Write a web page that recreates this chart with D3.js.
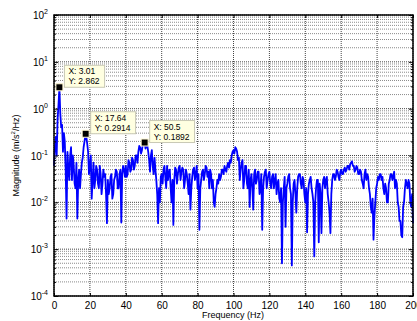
<!DOCTYPE html>
<html>
<head>
<meta charset="utf-8">
<script src="https://cdn.jsdelivr.net/npm/d3@7"></script>
<style>
  body { margin: 0; background: #fff; }
  svg { font-family: "Liberation Sans", Arial, sans-serif; }
</style>
</head>
<body>
<svg width="417" height="321"></svg>
<script>
// spectrum samples (about every 0.5 Hz)
var freqHz = [
  0, 0.5, 1, 1.5, 2, 2.5, 3.01, 3.5, 4, 4.5, 5, 5.5, 6, 6.5, 7, 7.5, 8, 8.5, 9, 9.5,
  10, 10.5, 11, 11.5, 12, 12.5, 13, 13.5, 14, 14.5, 15, 15.5, 16, 16.5, 17, 17.64, 18, 18.5, 19, 19.5,
  20, 20.5, 21, 21.5, 22, 22.5, 23, 23.5, 24, 24.5, 25, 25.5, 26, 26.5, 27, 27.5, 28, 28.5, 29, 29.5,
  30, 30.5, 31, 31.5, 32, 32.5, 33, 33.5, 34, 34.5, 35, 35.5, 36, 36.5, 37, 37.5, 38, 38.5, 39, 39.5,
  40, 40.5, 41, 41.5, 42, 42.5, 43, 43.5, 44, 44.5, 45, 45.5, 46, 46.5, 47, 47.5, 48, 48.5, 49, 49.5,
  50, 50.5, 51, 51.5, 52, 52.5, 53, 53.5, 54, 54.5, 55, 55.5, 56, 56.5, 57, 57.5, 58, 58.5, 59, 59.5,
  60, 60.5, 61, 61.5, 62, 62.5, 63, 63.5, 64, 64.5, 65, 65.5, 66, 66.5, 67, 67.5, 68, 68.5, 69, 69.5,
  70, 70.5, 71, 71.5, 72, 72.5, 73, 73.5, 74, 74.5, 75, 75.5, 76, 76.5, 77, 77.5, 78, 78.5, 79, 79.5,
  80, 80.5, 81, 81.5, 82, 82.5, 83, 83.5, 84, 84.5, 85, 85.5, 86, 86.5, 87, 87.5, 88, 88.5, 89, 89.5,
  90, 90.5, 91, 91.5, 92, 92.5, 93, 93.5, 94, 94.5, 95, 95.5, 96, 96.5, 97, 97.5, 98, 98.5, 99, 99.5,
  100, 100.5, 101, 101.5, 102, 102.5, 103, 103.5, 104, 104.5, 105, 105.5, 106, 106.5, 107, 107.5, 108, 108.5, 109, 109.5,
  110, 110.5, 111, 111.5, 112, 112.5, 113, 113.5, 114, 114.5, 115, 115.5, 116, 116.5, 117, 117.5, 118, 118.5, 119, 119.5,
  120, 120.5, 121, 121.5, 122, 122.5, 123, 123.5, 124, 124.5, 125, 125.5, 126, 126.5, 127, 127.5, 128, 128.5, 129, 129.5,
  130, 130.5, 131, 131.5, 132, 132.5, 133, 133.5, 134, 134.5, 135, 135.5, 136, 136.5, 137, 137.5, 138, 138.5, 139, 139.5,
  140, 140.5, 141, 141.5, 142, 142.5, 143, 143.5, 144, 144.5, 145, 145.5, 146, 146.5, 147, 147.5, 148, 148.5, 149, 149.5,
  150, 150.5, 151, 151.5, 152, 152.5, 153, 153.5, 154, 154.5, 155, 155.5, 156, 156.5, 157, 157.5, 158, 158.5, 159, 159.5,
  160, 160.5, 161, 161.5, 162, 162.5, 163, 163.5, 164, 164.5, 165, 165.5, 166, 166.5, 167, 167.5, 168, 168.5, 169, 169.5,
  170, 170.5, 171, 171.5, 172, 172.5, 173, 173.5, 174, 174.5, 175, 175.5, 176, 176.5, 177, 177.5, 178, 178.5, 179, 179.5,
  180, 180.5, 181, 181.5, 182, 182.5, 183, 183.5, 184, 184.5, 185, 185.5, 186, 186.5, 187, 187.5, 188, 188.5, 189, 189.5,
  190, 190.5, 191, 191.5, 192, 192.5, 193, 193.5, 194, 194.5, 195, 195.5, 196, 196.5, 197, 197.5, 198, 198.5, 199, 199.5, 200];

var magnitude = [
  0.06, 0.15, 0.25, 0.1, 0.6, 1.2, 2.862, 0.8, 0.4, 0.45, 0.12, 0.3, 0.2, 0.05, 0.0045, 0.12, 0.05, 0.03, 0.1, 0.15,
  0.03, 0.1, 0.06, 0.025, 0.02, 0.07, 0.0045, 0.03, 0.05, 0.02, 0.04, 0.07, 0.09, 0.15, 0.2, 0.2914, 0.25, 0.18, 0.12, 0.04,
  0.06, 0.1, 0.012, 0.03, 0.07, 0.02, 0.03, 0.06, 0.05, 0.025, 0.02, 0.06, 0.04, 0.015, 0.025, 0.05, 0.035, 0.04, 0.015, 0.0036,
  0.03, 0.015, 0.02, 0.035, 0.04, 0.012, 0.015, 0.03, 0.035, 0.05, 0.045, 0.02, 0.02, 0.04, 0.05, 0.0037, 0.04, 0.06, 0.05, 0.035,
  0.06, 0.035, 0.04, 0.08, 0.07, 0.045, 0.05, 0.09, 0.08, 0.05, 0.06, 0.1, 0.1, 0.07, 0.12, 0.16, 0.15, 0.11, 0.13, 0.18,
  0.17, 0.1892, 0.14, 0.17, 0.16, 0.12, 0.08, 0.045, 0.1, 0.13, 0.06, 0.04, 0.09, 0.05, 0.03, 0.015, 0.0036, 0.02, 0.01, 0.035,
  0.04, 0.025, 0.05, 0.06, 0.035, 0.02, 0.06, 0.03, 0.045, 0.05, 0.02, 0.01, 0.03, 0.0033, 0.03, 0.055, 0.05, 0.025, 0.04, 0.055,
  0.06, 0.03, 0.045, 0.055, 0.05, 0.02, 0.03, 0.05, 0.04, 0.025, 0.015, 0.04, 0.007, 0.02, 0.035, 0.05, 0.055, 0.03, 0.04, 0.06,
  0.02, 0.04, 0.0026, 0.02, 0.03, 0.045, 0.05, 0.03, 0.04, 0.06, 0.055, 0.035, 0.045, 0.02, 0.05, 0.04, 0.02, 0.03, 0.01, 0.008,
  0.015, 0.02, 0.03, 0.025, 0.04, 0.03, 0.035, 0.05, 0.05, 0.04, 0.06, 0.05, 0.045, 0.06, 0.07, 0.055, 0.08, 0.07, 0.1, 0.12,
  0.13, 0.11, 0.15, 0.14, 0.12, 0.08, 0.09, 0.03, 0.05, 0.07, 0.08, 0.02, 0.03, 0.06, 0.06, 0.025, 0.02, 0.05, 0.008, 0.03,
  0.04, 0.02, 0.007, 0.04, 0.05, 0.025, 0.03, 0.045, 0.045, 0.015, 0.02, 0.04, 0.0026, 0.02, 0.035, 0.045, 0.05, 0.02, 0.03, 0.04,
  0.045, 0.025, 0.02, 0.035, 0.04, 0.02, 0.03, 0.04, 0.015, 0.025, 0.03, 0.012, 0.01, 0.02, 0.0005, 0.01, 0.02, 0.035, 0.003, 0.02,
  0.025, 0.035, 0.04, 0.02, 0.015, 0.00045, 0.01, 0.025, 0.03, 0.015, 0.006, 0.02, 0.035, 0.04, 0.04, 0.025, 0.02, 0.035, 0.03, 0.015,
  0.01, 0.02, 0.0023, 0.015, 0.025, 0.03, 0.035, 0.02, 0.015, 0.01, 0.0007, 0.01, 0.02, 0.03, 0.03, 0.0014, 0.025, 0.015, 0.0022, 0.02,
  0.03, 0.035, 0.02, 0.03, 0.035, 0.015, 0.01, 0.006, 0.0022, 0.015, 0.03, 0.04, 0.04, 0.03, 0.035, 0.05, 0.045, 0.035, 0.03, 0.045,
  0.05, 0.04, 0.04, 0.05, 0.055, 0.045, 0.05, 0.06, 0.06, 0.05, 0.065, 0.07, 0.075, 0.06, 0.06, 0.045, 0.05, 0.06, 0.055, 0.04,
  0.04, 0.05, 0.045, 0.03, 0.025, 0.02, 0.04, 0.05, 0.03, 0.04, 0.035, 0.02, 0.015, 0.008, 0.006, 0.012, 0.0016, 0.005, 0.01, 0.02,
  0.025, 0.035, 0.03, 0.04, 0.04, 0.03, 0.035, 0.02, 0.015, 0.025, 0.02, 0.01, 0.01, 0.025, 0.03, 0.04, 0.04, 0.03, 0.035, 0.045,
  0.02, 0.03, 0.025, 0.01, 0.008, 0.004, 0.004, 0.002, 0.0018, 0.008, 0.01, 0.02, 0.03, 0.025, 0.02, 0.03, 0.025, 0.01, 0.008, 0.015, 0.0036];

// data tips
var tipX = [3.01, 17.64, 50.5];
var tipY = [2.862, 0.2914, 0.1892];

var xTicks = [0, 20, 40, 60, 80, 100, 120, 140, 160, 180, 200];
var yExponents = [-4, -3, -2, -1, 0, 1, 2];

var svg = d3.select("svg");
var plotLeft = 54, plotRight = 413, plotTop = 15, plotBottom = 296;

var x = d3.scaleLinear().domain([0, 200]).range([plotLeft, plotRight]);
var y = d3.scaleLog().domain([1e-4, 1e2]).range([plotBottom, plotTop]);

// minor decade values
var minor = [];
yExponents.slice(0, -1).forEach(function (e) {
  for (var k = 2; k <= 9; k++) minor.push(k * Math.pow(10, e));
});

var grid = svg.append("g");
grid.selectAll("line.minor").data(minor).enter().append("line")
  .attr("x1", plotLeft).attr("x2", plotRight)
  .attr("y1", function (d) { return y(d); }).attr("y2", function (d) { return y(d); })
  .attr("stroke", "#8a8a8a").attr("stroke-width", 1).attr("stroke-dasharray", "1,1");
grid.selectAll("line.hmaj").data(yExponents).enter().append("line")
  .attr("x1", plotLeft).attr("x2", plotRight)
  .attr("y1", function (d) { return y(Math.pow(10, d)); }).attr("y2", function (d) { return y(Math.pow(10, d)); })
  .attr("stroke", "#444").attr("stroke-width", 1).attr("stroke-dasharray", "1,1");
grid.selectAll("line.vmaj").data(xTicks).enter().append("line")
  .attr("x1", function (d) { return x(d); }).attr("x2", function (d) { return x(d); })
  .attr("y1", plotTop).attr("y2", plotBottom)
  .attr("stroke", "#444").attr("stroke-width", 1).attr("stroke-dasharray", "1,1");

// spectrum line
var pts = freqHz.map(function (f, i) { return [f, magnitude[i]]; });
svg.append("path")
  .datum(pts)
  .attr("fill", "none")
  .attr("stroke", "#0000ff")
  .attr("stroke-width", 1.8)
  .attr("stroke-linejoin", "round")
  .attr("d", d3.line().x(function (d) { return x(d[0]); }).y(function (d) { return y(d[1]); }));

// axes (ticks inside, box)
var xAxisB = d3.axisBottom(x).tickValues(xTicks).tickSize(-3).tickPadding(6).tickFormat(d3.format("d"));
var gx = svg.append("g").attr("transform", "translate(0," + plotBottom + ")").call(xAxisB);
gx.selectAll("text").attr("font-size", "10px").attr("fill", "#000").attr("font-family", "Liberation Sans, Arial, sans-serif");
svg.append("g").attr("transform", "translate(0," + plotTop + ")")
  .call(d3.axisTop(x).tickValues(xTicks).tickSize(-3).tickFormat(""));

var allY = yExponents.map(function (e) { return Math.pow(10, e); });
svg.append("g").attr("transform", "translate(" + plotLeft + ",0)")
  .call(d3.axisLeft(y).tickValues(allY).tickSize(-4).tickFormat(""));
svg.append("g").attr("transform", "translate(" + plotLeft + ",0)")
  .call(d3.axisLeft(y).tickValues(minor).tickSize(-2).tickFormat(""));
svg.append("g").attr("transform", "translate(" + plotRight + ",0)")
  .call(d3.axisRight(y).tickValues(allY).tickSize(-4).tickFormat(""));
svg.append("g").attr("transform", "translate(" + plotRight + ",0)")
  .call(d3.axisRight(y).tickValues(minor).tickSize(-2).tickFormat(""));
svg.selectAll(".domain").remove();
svg.selectAll(".tick line").attr("stroke", "#000");

svg.append("rect").attr("x", plotLeft).attr("y", plotTop)
  .attr("width", plotRight - plotLeft).attr("height", plotBottom - plotTop)
  .attr("fill", "none").attr("stroke", "#000").attr("stroke-width", 1.5);

// y tick labels 10^n
var ylab = svg.append("g").selectAll("text").data(yExponents).enter().append("text")
  .attr("x", plotLeft - 6).attr("y", function (d) { return y(Math.pow(10, d)) + 4; })
  .attr("text-anchor", "end").attr("font-size", "10px").attr("fill", "#000");
ylab.append("tspan").text("10");
ylab.append("tspan").attr("dy", -5).attr("font-size", "7px").text(function (d) { return d; });

// axis titles
svg.append("text").attr("x", 233).attr("y", 318).attr("text-anchor", "middle")
  .attr("font-size", "9px").text("Frequency (Hz)");
var yt = svg.append("text")
  .attr("transform", "translate(19," + ((plotTop + plotBottom) / 2) + ") rotate(-90)")
  .attr("text-anchor", "middle").attr("font-size", "9px");
yt.append("tspan").text("Magnitude (m/s");
yt.append("tspan").attr("dy", -4).attr("font-size", "6px").text("2");
yt.append("tspan").attr("dy", 4).text("/Hz)");

// data tips
tipX.forEach(function (tx, i) {
  var mx = x(tx), my = y(tipY[i]);
  var g = svg.append("g");
  var box = g.append("rect").attr("fill", "#ffffe1").attr("stroke", "#c8c8b4").attr("stroke-width", 1);
  var t1 = g.append("text").attr("font-size", "8.5px").attr("x", mx + 9).attr("y", my - 13).text("X: " + tx);
  var t2 = g.append("text").attr("font-size", "8.5px").attr("x", mx + 9).attr("y", my - 3).text("Y: " + tipY[i]);
  var w = Math.max(t1.node().getComputedTextLength(), t2.node().getComputedTextLength());
  box.attr("x", mx + 5).attr("y", my - 22).attr("width", w + 9).attr("height", 22);
  svg.append("rect").attr("x", mx - 3.5).attr("y", my - 3.5).attr("width", 7).attr("height", 7)
    .attr("fill", "#000").attr("stroke", "#fff8d0").attr("stroke-width", 1);
});
</script>
</body>
</html>
